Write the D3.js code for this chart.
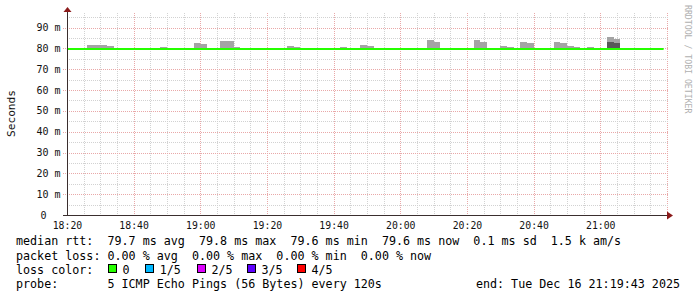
<!DOCTYPE html>
<html><head><meta charset="utf-8">
<script src="https://cdn.jsdelivr.net/npm/d3@7"></script>
<style>
html,body{margin:0;padding:0;background:#fff;}
svg{display:block;}
text{font-family:"DejaVu Sans Mono",monospace;}
</style></head>
<body><svg id="c" width="697" height="297"></svg>
<script>
// ---- data ----
const day = "2025-12-16";
const startTime = "18:19:43";
const endTime = "21:19:43";
const stepSeconds = 120;
const xTickLabels = ["18:20","18:40","19:00","19:20","19:40","20:00","20:20","20:40","21:00"];
const yTickValues = [0,10,20,30,40,50,60,70,80,90];
const yTickLabels = ["0","10 m","20 m","30 m","40 m","50 m","60 m","70 m","80 m","90 m"];
const yMinorValues = [5,15,25,35,45,55,65,75,85,95];
const smokeTimes = ["18:26","18:28","18:30","18:32","18:48","18:58","19:00","19:06","19:08","19:10",
  "19:26","19:28","19:42","19:48","19:50","20:08","20:10","20:22","20:24","20:30",
  "20:32","20:36","20:38","20:46","20:48","20:50","20:52","20:56","21:02","21:04"];
const smokeHigh = [81.5,81.5,81.5,81.1,80.6,82.5,82.1,83.6,83.6,80.6,
  81.1,80.6,80.6,81.5,81.1,84.0,83.1,84.0,83.1,81.1,
  80.6,82.9,82.5,83.1,82.5,81.1,80.6,80.6,85.5,84.5];
const smokeDark = [null,null,null,null,null,null,null,null,null,null,
  null,null,null,null,null,null,null,null,null,null,
  null,null,null,null,null,null,null,null,83.1,82.5];
const smokeLow = [79.6,79.6,79.6,79.6,79.6,79.6,79.6,79.6,79.6,79.6,
  79.6,79.6,79.6,79.6,79.6,79.6,79.6,79.6,79.6,79.6,
  79.6,79.6,79.6,79.6,79.6,79.6,79.6,79.6,79.6,79.6];
const medianTimes = ["18:20","21:19"];
const medianValues = [79.7,79.7];
const lossLabels = ["0","1/5","2/5","3/5","4/5"];
const lossColors = ["#26ff00","#00b8ff","#dd00ff","#5e00ff","#ff0000"];
const legendLines = [
  "median rtt:  79.7 ms avg  79.8 ms max  79.6 ms min  79.6 ms now  0.1 ms sd  1.5 k am/s",
  "packet loss: 0.00 % avg  0.00 % max  0.00 % min  0.00 % now",
  "loss color:",
  "probe:       5 ICMP Echo Pings (56 Bytes) every 120s"
];
const endLabel = "end: Tue Dec 16 21:19:43 2025";

// ---- drawing ----
const parse = d3.timeParse("%Y-%m-%d %H:%M:%S");
const T = s => parse(day + " " + (s.length === 5 ? s + ":00" : s));
const svg = d3.select("#c");
const L = 67, R = 669, TOP = 13, BOT = 215;
const x = d3.scaleTime().domain([T(startTime), T(endTime)]).range([66, 666]);
const y = d3.scaleLinear().domain([0, 97]).range([BOT, TOP]);
const px = v => Math.round(v) + 0.5;

const grid = svg.append("g");
// vertical grid
const vt = d3.timeMinute.every(5).range(T("18:20"), d3.timeSecond.offset(T("21:20"), 1));
vt.forEach(t => {
  const major = t.getMinutes() % 20 === 0;
  const xx = px(x(t));
  if (xx <= L + 0.5) return;
  grid.append("line").attr("x1", xx).attr("x2", xx).attr("y1", TOP).attr("y2", BOT)
    .attr("stroke", major ? "#e9a8a8" : "#d2d2d2").attr("stroke-dasharray", "1,1");
});
// horizontal grid
yMinorValues.forEach(v => {
  const yy = px(y(v));
  grid.append("line").attr("x1", L).attr("x2", R).attr("y1", yy).attr("y2", yy)
    .attr("stroke", "#d2d2d2").attr("stroke-dasharray", "1,1");
});
yTickValues.slice(1).forEach(v => {
  const yy = px(y(v));
  grid.append("line").attr("x1", 63).attr("x2", R).attr("y1", yy).attr("y2", yy)
    .attr("stroke", "#e9a8a8").attr("stroke-dasharray", "1,1");
});

// smoke
const smoke = smokeTimes.map((t, i) => ({t: T(t), hi: smokeHigh[i], dk: smokeDark[i], lo: smokeLow[i]}));
const sg = svg.append("g").attr("shape-rendering", "crispEdges");
smoke.forEach(d => {
  const x0 = Math.round(x(d.t)), x1 = Math.round(x(d3.timeSecond.offset(d.t, stepSeconds)));
  sg.append("rect").attr("x", x0).attr("width", x1 - x0)
    .attr("y", Math.round(y(d.hi))).attr("height", Math.round(y(d.lo)) - Math.round(y(d.hi)))
    .attr("fill", "#a4a4a4");
  if (d.dk !== null) {
    sg.append("rect").attr("x", x0).attr("width", x1 - x0)
      .attr("y", Math.round(y(d.dk))).attr("height", Math.round(y(d.lo)) - Math.round(y(d.dk)))
      .attr("fill", "#585858");
  }
});

// median line
const med = medianTimes.map((t, i) => ({t: T(t), v: medianValues[i]}));
svg.append("path").datum(med)
  .attr("d", d3.line().x(d => x(d.t)).y(d => Math.round(y(d.v)) ))
  .attr("stroke", lossColors[0]).attr("stroke-width", 2).attr("fill", "none");

// axes
const axisColor = "#3a2e2e", arrowColor = "#8b1a1a";
svg.append("line").attr("x1", L + 0.5).attr("x2", L + 0.5).attr("y1", 11).attr("y2", BOT + 1)
  .attr("stroke", axisColor);
svg.append("line").attr("x1", 63).attr("x2", 668).attr("y1", BOT + 0.5).attr("y2", BOT + 0.5)
  .attr("stroke", axisColor);
svg.append("path").attr("d", `M${L+0.5},7 L${L-3.5},12 L${L+4.5},12 Z`).attr("fill", arrowColor);
svg.append("path").attr("d", `M673,${BOT+0.5} L667,${BOT-3.5} L667,${BOT+4.5} Z`).attr("fill", arrowColor);

// y labels
yTickValues.forEach((v, i) => {
  const isZero = v === 0;
  svg.append("text").attr("x", isZero ? 46.5 : 60.5).attr("y", y(v) + 3.5)
    .attr("text-anchor", "end").attr("font-size", "10px").attr("fill", "#111")
    .text(yTickLabels[i]);
});
// x labels
xTickLabels.forEach(s => {
  svg.append("text").attr("x", x(T(s)) + 0.5).attr("y", 228.5)
    .attr("text-anchor", "middle").attr("font-size", "9.8px").attr("fill", "#111")
    .text(s);
});

// axis titles
svg.append("text").attr("transform", "translate(14.5,113.5) rotate(-90)")
  .attr("text-anchor", "middle").attr("font-size", "11.2px").attr("fill", "#111").text("Seconds");
svg.append("text").attr("transform", "translate(685,5) rotate(90)")
  .attr("text-anchor", "start").attr("font-size", "8.2px").attr("fill", "#b0b0b0").text("RRDTOOL / TOBI OETIKER");

// legend
const fs = 11.7, baselines = [245.3, 259.6, 273.6, 287.6];
legendLines.forEach((s, i) => {
  svg.append("text").attr("x", 16).attr("y", baselines[i]).attr("font-size", fs + "px")
    .attr("fill", "#000").style("white-space", "pre").text(s);
});
const boxX = [108.5, 145.5, 197.5, 247.5, 297.5];
const lblX = [122.5, 159.7, 211.4, 261.4, 311.4];
lossLabels.forEach((s, i) => {
  svg.append("rect").attr("x", boxX[i]).attr("y", 264.5).attr("width", 8).attr("height", 8)
    .attr("fill", lossColors[i]).attr("stroke", "#000").attr("stroke-width", 1);
  svg.append("text").attr("x", lblX[i]).attr("y", baselines[2]).attr("font-size", fs + "px")
    .attr("fill", "#000").text(s);
});
svg.append("text").attr("x", 680).attr("y", baselines[3]).attr("text-anchor", "end")
  .attr("font-size", fs + "px").attr("fill", "#000").text(endLabel);
</script></body></html>
